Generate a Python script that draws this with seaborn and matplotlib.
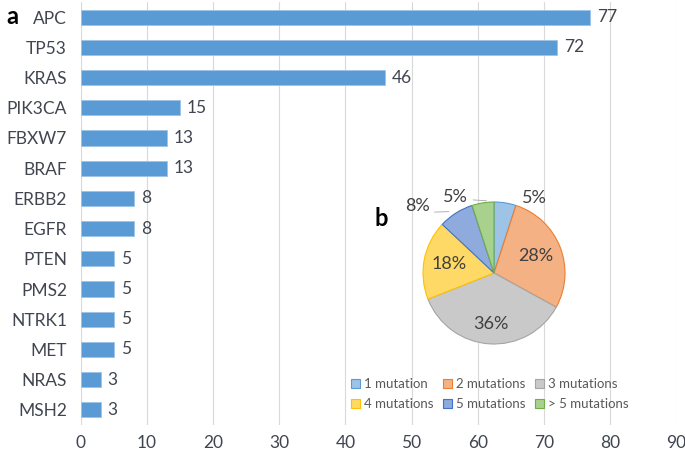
import matplotlib
matplotlib.use("Agg")
import matplotlib.pyplot as plt
import seaborn as sns
import numpy as np
import pandas as pd

# Panel a: number of samples with mutation per gene
genes = ["APC", "TP53", "KRAS", "PIK3CA", "FBXW7", "BRAF", "ERBB2",
         "EGFR", "PTEN", "PMS2", "NTRK1", "MET", "NRAS", "MSH2"]
counts = [77, 72, 46, 15, 13, 13, 8, 8, 5, 5, 5, 5, 3, 3]

# Panel b: share of samples by number of mutations
groups = ["1 mutation", "2 mutations", "3 mutations",
          "4 mutations", "5 mutations", "> 5 mutations"]
shares = [5, 28, 36, 18, 8, 5]

fill_cols = ["#9DC3E6", "#F4B183", "#C9C9C9", "#FFD966", "#8FAADC", "#A9D18E"]
edge_cols = ["#5B9BD5", "#ED7D31", "#A5A5A5", "#FFC000", "#4472C4", "#70AD47"]
txt = "#404550"

sns.set_style("white")
plt.rcParams["font.family"] = ["Lato", "DejaVu Sans"]

fig = plt.figure(figsize=(6.85, 4.57), dpi=100)
ax = fig.add_axes([81 / 685, 1 - 425 / 457, 595 / 685, 423 / 457])

df = pd.DataFrame({"gene": genes, "count": counts})
sns.barplot(data=df, x="count", y="gene", orient="h", color="#5B9BD5",
            saturation=1, width=0.5, edgecolor="#9DC3E6", linewidth=0.6,
            ax=ax, zorder=3)
ax.set_xlim(0, 90)
ax.set_xticks(range(0, 91, 10))
ax.grid(axis="x", color="#D9D9D9", linewidth=0.8, zorder=0)
ax.set_axisbelow(True)
for s in ax.spines.values():
    s.set_visible(False)
ax.set_xlabel("")
ax.set_ylabel("")
ax.tick_params(axis="both", length=0, labelsize=12.5, colors=txt)
ax.tick_params(axis="x", pad=7)
ax.tick_params(axis="y", pad=10)
for c in ax.containers:
    ax.bar_label(c, padding=5, fontsize=12.5, color=txt)

fig.text(12 / 685, 1 - 17 / 457, "a", fontsize=17, fontweight="bold",
         va="center", ha="center", color="black")

# Pie inset
pax = fig.add_axes([(494 - 71) / 685, 1 - (273 + 71) / 457, 142 / 685, 142 / 457])
wedges, _ = pax.pie(shares, colors=fill_cols, startangle=90, counterclock=False,
                    wedgeprops=dict(linewidth=0.8))
for w, ec in zip(wedges, edge_cols):
    w.set_edgecolor(ec)

# label placement (angle in degrees, radius) - Excel-style offsets
label_pos = [(62, 1.2), (None, 0.64), (None, 0.72), (None, 0.65), (139, 1.43), (117, 1.2)]
start = 90.0
for i, (v, w) in enumerate(zip(shares, wedges)):
    mid = start - v * 3.6 / 2
    start -= v * 3.6
    ang, r = label_pos[i]
    if ang is None:
        ang = mid
    x, y = r * np.cos(np.radians(ang)), r * np.sin(np.radians(ang))
    pax.text(x, y, f"{v}%", ha="center", va="center", fontsize=13, color="#404040")
    ex, ey = np.cos(np.radians(mid)), np.sin(np.radians(mid))
    if i == 4:
        pax.plot([x + 0.24, ex - 0.1], [y - 0.08, ey + 0.02], color="#A6A6A6", lw=0.6, clip_on=False)
    elif i == 5:
        pax.plot([x + 0.25, ex + 0.05], [y - 0.04, ey + 0.03], color="#A6A6A6", lw=0.6, clip_on=False)
pax.set_xlim(-1, 1)
pax.set_ylim(-1, 1)
pax.set_aspect("equal")

fig.text(381 / 685, 1 - 218 / 457, "b", fontsize=17, fontweight="bold",
         va="center", ha="center", color="black")

order = [0, 3, 1, 4, 2, 5]
fig.legend([wedges[i] for i in order], [groups[i] for i in order], ncol=3,
           loc="upper left", bbox_to_anchor=(339 / 685, 1 - 366 / 457),
           frameon=False, fontsize=9.5, labelcolor="#595959",
           handlelength=0.7, handleheight=0.7, handletextpad=0.3,
           columnspacing=0.7, labelspacing=0.6)

fig.savefig("out.png", dpi=100)
